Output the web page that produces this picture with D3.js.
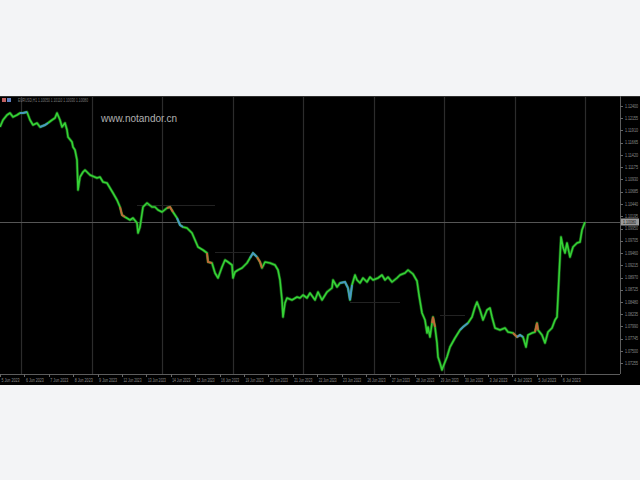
<!DOCTYPE html>
<html><head><meta charset="utf-8">
<script src="https://cdn.jsdelivr.net/npm/d3@7"></script>
<style>html,body{margin:0;padding:0;background:#f3f4f6;}svg{display:block;}</style>
</head><body>
<svg id="c" width="640" height="480"></svg>
<script>
// H1 bars (1 bar per pixel column at this zoom) and closing prices
const bars = [0,3,7,10,13,17,20,23,27,30,33,37,40,45,48,52,55,57,60,62,65,67,68,72,73,75,77,78,80,83,85,90,97,100,103,107,110,113,117,120,122,125,130,133,137,138,140,143,147,152,155,158,162,167,170,173,177,180,183,187,192,195,198,203,207,208,212,215,218,222,225,228,232,233,235,238,242,247,250,253,257,260,262,265,270,275,278,280,282,283,285,287,292,297,300,303,307,310,315,318,322,327,332,333,337,340,345,348,350,352,355,357,360,363,367,370,373,378,382,385,388,392,397,400,405,408,413,417,419,422,425,427,428,430,432,433,435,437,438,440,442,443,447,450,455,460,463,468,472,475,477,480,483,487,490,492,495,500,505,508,513,517,520,523,526,528,532,535,537,538,542,545,548,552,555,557,559,561,563,565,567,570,573,577,580,582,585];
const closes = [1.1198,1.1212,1.1222,1.1226,1.1218,1.1222,1.1226,1.1226,1.1228,1.1212,1.1202,1.1206,1.1198,1.1202,1.1206,1.1212,1.1216,1.1226,1.1212,1.1198,1.1206,1.1192,1.1178,1.1168,1.1158,1.1152,1.1132,1.1072,1.1098,1.1108,1.1112,1.1102,1.1096,1.1098,1.1088,1.1086,1.1076,1.1066,1.1052,1.1038,1.1022,1.1018,1.1012,1.1016,1.1006,1.0986,1.0998,1.1038,1.1046,1.1038,1.1038,1.1032,1.1028,1.1036,1.1038,1.1028,1.1016,1.1002,1.0998,1.0996,1.0986,1.0972,1.0958,1.0952,1.0946,1.0928,1.0926,1.0906,1.0896,1.0918,1.0932,1.0928,1.0922,1.0896,1.0908,1.0912,1.0916,1.0926,1.0936,1.0946,1.0938,1.0928,1.0916,1.0928,1.0926,1.0922,1.0912,1.0892,1.0852,1.0818,1.0846,1.0856,1.0852,1.0858,1.0856,1.0862,1.0856,1.0866,1.0852,1.0868,1.0852,1.0868,1.0876,1.0892,1.0878,1.0886,1.0888,1.0876,1.0852,1.0882,1.0902,1.0892,1.0886,1.0896,1.0888,1.0898,1.0892,1.0896,1.0902,1.0892,1.0898,1.0888,1.0896,1.0902,1.0906,1.0912,1.0904,1.0890,1.0862,1.0826,1.0812,1.0786,1.0798,1.0778,1.0806,1.0818,1.0798,1.0766,1.0738,1.0726,1.0712,1.0718,1.0738,1.0758,1.0776,1.0792,1.0798,1.0806,1.0818,1.0838,1.0848,1.0832,1.0812,1.0832,1.0836,1.0818,1.0796,1.0792,1.0796,1.0788,1.0786,1.0778,1.0782,1.0778,1.0758,1.0782,1.0786,1.0788,1.0806,1.0792,1.0782,1.0766,1.0788,1.0796,1.0812,1.0818,1.0898,1.0978,1.0958,1.0946,1.0966,1.0938,1.0958,1.0966,1.0968,1.0992,1.1008];
// highlighted bars: [bar, kind]
const highlights = [[23,"up"],[45,"up"],[122,"dn"],[170,"dn"],[180,"up"],[208,"dn"],[253,"up"],[260,"dn"],[345,"up"],[350,"up"],[433,"dn"],[463,"up"],[517,"dn"],[520,"up"],[537,"dn"]];
// faint horizontal levels: [fromBar, toBar, price]
const levels = [[137,215,1.1042],[215,250,1.0948],[350,400,1.0848],[440,465,1.0822]];
const priceTicks = [1.12400,1.12155,1.11910,1.11665,1.11420,1.11175,1.10930,1.10685,1.10440,1.10195,1.09950,1.09705,1.09460,1.09215,1.08970,1.08725,1.08480,1.08235,1.07990,1.07745,1.07500,1.07255];
const timeLabels = ["5 Jun 2023","6 Jun 2023","7 Jun 2023","8 Jun 2023","9 Jun 2023","12 Jun 2023","13 Jun 2023","14 Jun 2023","15 Jun 2023","16 Jun 2023","19 Jun 2023","20 Jun 2023","21 Jun 2023","22 Jun 2023","23 Jun 2023","26 Jun 2023","27 Jun 2023","28 Jun 2023","29 Jun 2023","30 Jun 2023","3 Jul 2023","4 Jul 2023","5 Jul 2023","6 Jul 2023"];
const title = "EURUSD,H1  1.10050 1.10110 1.10030 1.10080";
const watermark = "www.notandor.cn";

const svg = d3.select("#c");
const boxTop = 96, boxBottom = 385, plotTop = 97, plotBottom = 374, axisX = 620;
const font = "Liberation Sans, Arial, sans-serif";
const x = d3.scaleLinear().domain([0, 620]).range([0, axisX]);
const y = d3.scaleLinear().domain([1.0704, 1.1258]).range([plotBottom, plotTop]);

svg.append("rect").attr("x",0).attr("y",boxTop).attr("width",640).attr("height",boxBottom-boxTop).attr("fill","#000");
svg.append("line").attr("x1",0).attr("x2",640).attr("y1",boxTop+0.5).attr("y2",boxTop+0.5).attr("stroke","#2e2e2e");

// vertical grid
const gridBars = d3.range(21, 600, 70.5);
svg.append("g").selectAll("line").data(gridBars).join("line")
  .attr("x1",d=>Math.round(x(d))+0.5).attr("x2",d=>Math.round(x(d))+0.5)
  .attr("y1",plotTop).attr("y2",plotBottom).attr("stroke","#2c2c2c").attr("stroke-width",1.2);

// faint levels
svg.append("g").selectAll("line").data(levels).join("line")
  .attr("x1",d=>x(d[0])).attr("x2",d=>x(d[1]))
  .attr("y1",d=>Math.round(y(d[2]))+0.5).attr("y2",d=>Math.round(y(d[2]))+0.5)
  .attr("stroke","#222");

// bid line
const last = closes[closes.length-1];
svg.append("line").attr("x1",0).attr("x2",axisX).attr("y1",Math.round(y(last))+0.5).attr("y2",Math.round(y(last))+0.5)
  .attr("stroke","#555");

// axes borders
svg.append("line").attr("x1",axisX+0.5).attr("x2",axisX+0.5).attr("y1",boxTop).attr("y2",plotBottom).attr("stroke","#5c5c5c");
svg.append("line").attr("x1",0).attr("x2",axisX).attr("y1",plotBottom+0.5).attr("y2",plotBottom+0.5).attr("stroke","#5c5c5c");

// watermark
svg.append("text").attr("x",101).attr("y",122).text(watermark)
  .attr("font-family",font).attr("font-size",10).attr("fill","#b0b0b0");

// title
svg.append("rect").attr("x",2).attr("y",98).attr("width",4).attr("height",4).attr("fill","#c06060");
svg.append("rect").attr("x",7).attr("y",98).attr("width",4).attr("height",4).attr("fill","#6080c0");
svg.append("text").attr("x",18).attr("y",102).text(title)
  .attr("font-family",font).attr("font-size",4.5).attr("fill","#7a7a7a")
  .attr("textLength",70).attr("lengthAdjust","spacingAndGlyphs");

// price line
const pts = bars.map((b,i)=>[b, closes[i]]);
const line = d3.line().x(d=>x(d[0])).y(d=>y(d[1]));
svg.append("path").datum(pts).attr("d",line).attr("fill","none")
  .attr("stroke","#1f8a1f").attr("stroke-width",3).attr("stroke-linejoin","round").attr("opacity",0.6);
svg.append("path").datum(pts).attr("d",line).attr("fill","none")
  .attr("stroke","#36d236").attr("stroke-width",1.6).attr("stroke-linejoin","round");

// highlights
const idx = new Map(bars.map((b,i)=>[b,i]));
svg.append("g").selectAll("path").data(highlights).join("path")
  .attr("d",d=>{const i = idx.get(d[0]); return line(pts.slice(Math.max(0,i-1), Math.min(pts.length,i+2)));})
  .attr("fill","none").attr("stroke",d=>d[1]==="up"?"#4a90d9":"#d9573a").attr("stroke-width",2).attr("opacity",0.85);

// price axis
const pa = svg.append("g");
pa.selectAll("line").data(priceTicks).join("line")
  .attr("x1",axisX).attr("x2",axisX+3).attr("y1",d=>Math.round(y(d))+0.5).attr("y2",d=>Math.round(y(d))+0.5).attr("stroke","#666");
pa.selectAll("text").data(priceTicks).join("text")
  .attr("x",axisX+5).attr("y",d=>y(d)).attr("dy","0.35em").text(d=>d.toFixed(5))
  .attr("font-family",font).attr("font-size",4.5).attr("fill","#8c8c8c")
  .attr("textLength",13).attr("lengthAdjust","spacingAndGlyphs");
// bid label
svg.append("rect").attr("x",axisX+1).attr("y",y(last)-3.5).attr("width",18).attr("height",7).attr("fill","#9a9a9a");
svg.append("text").attr("x",axisX+3).attr("y",y(last)).attr("dy","0.35em").text(last.toFixed(5))
  .attr("font-family",font).attr("font-size",4.5).attr("fill","#111")
  .attr("textLength",13).attr("lengthAdjust","spacingAndGlyphs");

// time axis
const labelBars = timeLabels.map((t,i)=>i*24.4);
const ta = svg.append("g");
ta.selectAll("line").data(labelBars).join("line")
  .attr("x1",d=>Math.round(x(d))+0.5).attr("x2",d=>Math.round(x(d))+0.5).attr("y1",plotBottom).attr("y2",plotBottom+3).attr("stroke","#666");
ta.selectAll("text").data(timeLabels).join("text")
  .attr("x",(d,i)=>x(labelBars[i])+1.5).attr("y",380).attr("dy","0.35em").text(d=>d)
  .attr("font-family",font).attr("font-size",4.5).attr("fill","#8c8c8c")
  .attr("textLength",18).attr("lengthAdjust","spacingAndGlyphs");
</script>
</body></html>
